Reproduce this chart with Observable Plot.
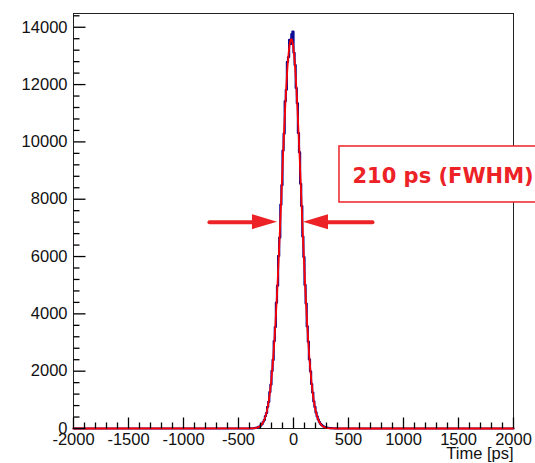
<!DOCTYPE html>
<html><head><meta charset="utf-8">
<script src="https://cdn.jsdelivr.net/npm/d3@7"></script>
<script src="https://cdn.jsdelivr.net/npm/@observablehq/plot@0.6"></script>
<style>
body{margin:0;background:#fff}
#chart svg{font-family:'Liberation Sans',Arial,sans-serif;font-size:16.5px;color:#111;background:#fff}
</style>
</head><body><div id="chart"></div>
<script>
// Histogram: 10 ps bins starting at -400 ps (counts per bin)
const binStart = -400, binWidth = 10;
const counts = [3,2,6,9,10,19,24,41,60,76,
  121,155,236,297,432,541,758,931,1270,1531,
  2010,2392,3052,3541,4390,4985,6020,6660,7810,8490,
  9700,10290,11420,11820,12790,12960,13560,13420,13760,13850,
  13110,12680,11880,11350,10310,9640,8540,7760,6700,5980,
  5010,4360,3560,3030,2410,1995,1550,1255,945,752,
  560,425,318,236,170,126,92,68,52,40,
  31,24,18,14,11,8,6,4,3,2];
// Gaussian fit curve, sampled at bin centres
const fitX = [-395,-385,-375,-365,-355,-345,-335,-325,-315,-305,-295,-285,-275,-265,-255,-245,-235,-225,-215,-205,
  -195,-185,-175,-165,-155,-145,-135,-125,-115,-105,-95,-85,-75,-65,-55,-45,-35,-25,-15,-5,
  5,15,25,35,45,55,65,75,85,95,105,115,125,135,145,155,165,175,185,195,
  205,215,225,235,245,255,265,275,285,295,305,315,325,335,345,355,365,375,385,395];
const fitY = [2,3,5,7,11,17,26,38,56,81,115,162,224,308,417,557,735,958,1234,1568,
  1968,2439,2985,3607,4304,5071,5902,6781,7693,8618,9535,10416,11236,11968,12588,13074,13408,13578,13578,13408,
  13074,12588,11968,11236,10416,9535,8618,7693,6781,5902,5071,4304,3607,2985,2439,1968,1568,1234,958,735,
  557,417,308,224,162,115,81,56,38,26,17,11,7,5,3,2,1,1,0,0];
const xRange = [-2000, 2000];
const yMax = 14480;
const xMajor = [-2000,-1500,-1000,-500,0,500,1000,1500,2000];
const yMajor = [0,2000,4000,6000,8000,10000,12000,14000];
const xMinor = d3.range(-2000, 2001, 100).filter(v => v % 500 !== 0);
const yMinor = d3.range(0, 14401, 400).filter(v => v % 2000 !== 0);
const axisTitle = ["Time [ps]"];
// Annotation (data coordinates)
const annText = ["210 ps (FWHM)"];
const annTextPos = [{x: 536, y: 8800}];
const annBox = [{x1: 418, x2: 2600, y1: 7886, y2: 9840}];
const arrowY = 7200, headHalf = 262;
const arrowShafts = [{x1: -764, x2: -360}, {x1: 718, x2: 305}];
const arrowHeads = [{tip: -145, base: -373}, {tip: 91, base: 318}];

const blue = "#0b0b96", red = "#ff0000", annRed = "#ec2227";

// layout
const W = 535, H = 463, mL = 73, mR = 22, mT = 13, mB = 35;
const unitsPerPxY = yMax / (H - mT - mB);
const unitsPerPxX = (xRange[1] - xRange[0]) / (W - mL - mR);

const histPts = [{x: xRange[0], y: 0}]
  .concat(counts.map((c, i) => ({x: binStart + i * binWidth, y: c})))
  .concat([{x: binStart + counts.length * binWidth, y: 0}, {x: xRange[1], y: 0}]);
const fitPts = [{x: xRange[0], y: 0}]
  .concat(fitX.map((x, i) => ({x, y: fitY[i]})))
  .concat([{x: xRange[1], y: 0}]);
const shaftPts = arrowShafts.flatMap((s, k) => [{x: s.x1, y: arrowY, k}, {x: s.x2, y: arrowY, k}]);
const headPts = arrowHeads.flatMap((h, k) => [
  {x: h.base, y1: arrowY - headHalf, y2: arrowY + headHalf, k},
  {x: h.tip, y1: arrowY, y2: arrowY, k}]);

// inward tick segments (ROOT style), lengths in pixels converted to data units
const xTicks = xMajor.map(v => ({x: v, len: 11})).concat(xMinor.map(v => ({x: v, len: 6})));
const yTicks = yMajor.map(v => ({y: v, len: 12})).concat(yMinor.map(v => ({y: v, len: 6})));

const chart = Plot.plot({
  width: W, height: H,
  marginLeft: mL, marginRight: mR, marginTop: mT, marginBottom: mB,
  x: {domain: xRange},
  y: {domain: [0, yMax]},
  marks: [
    Plot.frame({stroke: "#222"}),
    Plot.line(histPts, {x: "x", y: "y", curve: "step-after", stroke: blue, strokeWidth: 2.2}),
    Plot.line(fitPts, {x: "x", y: "y", stroke: red, strokeWidth: 1.8}),
    Plot.axisX(xMajor, {tickSize: 0, tickPadding: 5, tickFormat: d => String(d), label: null}),
    Plot.axisY(yMajor, {tickSize: 0, tickPadding: 6, tickFormat: d => String(d), label: null}),
    Plot.text(axisTitle, {frameAnchor: "bottom-right", textAnchor: "end", lineAnchor: "middle", dy: 25, text: d => d}),
    Plot.rect(annBox, {x1: "x1", x2: "x2", y1: "y1", y2: "y2", fill: "white", stroke: annRed, strokeWidth: 1.5}),
    Plot.text(annTextPos, {x: "x", y: "y", text: (d, i) => annText[i], textAnchor: "start", lineAnchor: "middle",
      fontSize: 21, fontWeight: "bold", fontFamily: "'DejaVu Sans', Verdana, sans-serif", fill: annRed}),
    Plot.line(shaftPts, {x: "x", y: "y", z: "k", stroke: annRed, strokeWidth: 4}),
    Plot.areaY(headPts, {x: "x", y1: "y1", y2: "y2", z: "k", fill: annRed}),
    Plot.link(xTicks, {x1: "x", x2: "x", y1: 0, y2: d => d.len * unitsPerPxY, stroke: "black", strokeWidth: 1.3}),
    Plot.link(yTicks, {x1: xRange[0], x2: d => xRange[0] + d.len * unitsPerPxX, y1: "y", y2: "y", stroke: "black", strokeWidth: 1.3})
  ]
});
document.getElementById("chart").appendChild(chart);
</script>
</body></html>
